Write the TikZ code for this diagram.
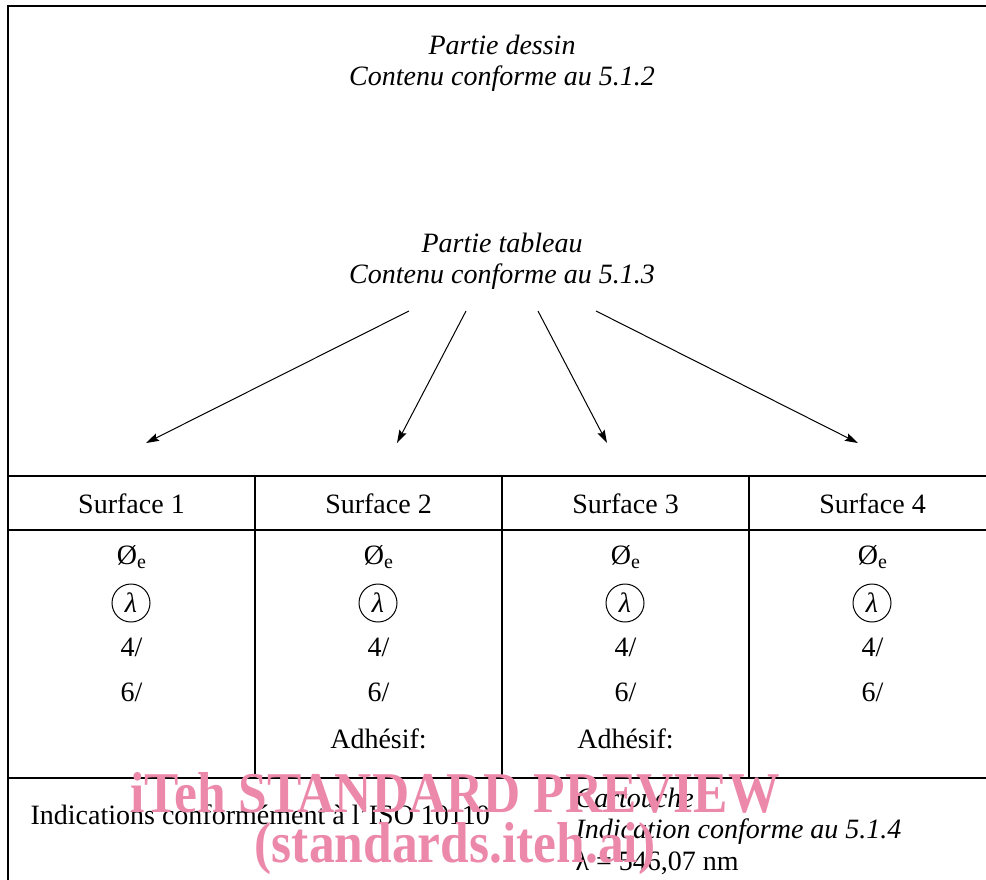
\documentclass[tikz,border=0pt]{standalone}
\usepackage{fontspec}
\setmainfont{Liberation Serif}
\usetikzlibrary{arrows.meta}
\definecolor{wm}{RGB}{236,137,170}
\begin{document}
\begin{tikzpicture}[x=1pt,y=-1pt,line width=1.2pt,
  txt/.style={font=\fontsize{28}{32}\selectfont,inner sep=0pt,anchor=center},
  itx/.style={font=\fontsize{28}{32}\selectfont\itshape,inner sep=0pt,anchor=center},
  ltx/.style={font=\fontsize{28}{32}\selectfont,inner sep=0pt,anchor=west},
  litx/.style={font=\fontsize{28}{32}\selectfont\itshape,inner sep=0pt,anchor=west},
  circ/.style={draw,circle,line width=1pt,minimum size=38pt,inner sep=0pt,font=\fontsize{28}{32}\selectfont\itshape},
  arr/.style={line width=1pt,-{Stealth[length=13pt,width=8pt,inset=2pt]}},
  wmtext/.style={text=wm,font=\fontsize{51.5}{53}\selectfont\bfseries,inner sep=0pt,anchor=center,yscale=1.12}]
\useasboundingbox (0,0) rectangle (986,879);
\clip (0,0) rectangle (986,879);
% frame and table lines
\draw (8,900) -- (8,6) -- (1000,6);
\draw[line width=1.5pt] (8,476) -- (1000,476);
\draw (8,530) -- (1000,530);
\draw[line width=1.5pt] (8,778) -- (1000,778);
\foreach \x in {255,502,749} \draw (\x,476) -- (\x,778);
% top texts
\node[itx] (pd1) at (502,45) {Partie dessin};
\node[itx] (pd2) at (502,79) {Contenu conforme au 5.1.2};
\node[itx] (pt1) at (502,243) {Partie tableau};
\node[itx] (pt2) at (502,277) {Contenu conforme au 5.1.3};
% arrows
\coordinate (s1) at (409,311); \coordinate (e1) at (146,443);
\coordinate (s2) at (466,311); \coordinate (e2) at (397,443);
\coordinate (s3) at (538,311); \coordinate (e3) at (607,443);
\coordinate (s4) at (596,311); \coordinate (e4) at (858,443);
\foreach \i in {1,...,4} \draw[arr] (s\i) -- (e\i);
% table columns
\foreach \i/\cx in {1/131.5,2/378.5,3/625.5,4/872.5}{
  \node[txt] (h\i) at (\cx,504) {Surface \i};
  \node[txt] (d\i) at (\cx,557) {Ø\raisebox{-0.25ex}{\fontsize{20}{21}\selectfont e}};
  \node[circ] (l\i) at (\cx-0.5,603) {λ};
  \node[txt] (f\i) at (\cx,647) {4/};
  \node[txt] (g\i) at (\cx,692) {6/};
}
\node[txt] (a2) at (378.5,739) {Adhésif:};
\node[txt] (a3) at (625.5,739) {Adhésif:};
% bottom
\node[ltx] (ind) at (30,815) {Indications conformément à l'ISO 10110};
\node[litx] (c1) at (575,798) {Cartouche};
\node[litx] (c2) at (575,832) {Indication conforme au 5.1.4};
\node[ltx] (c3) at (575,863) {λ = 546,07 nm};
% watermark
\node[wmtext] (w1) at (455,793) {iTeh STANDARD PREVIEW};
\node[wmtext] (w2) at (455,849) {(standards.iteh.ai)};
\end{tikzpicture}
\end{document}
